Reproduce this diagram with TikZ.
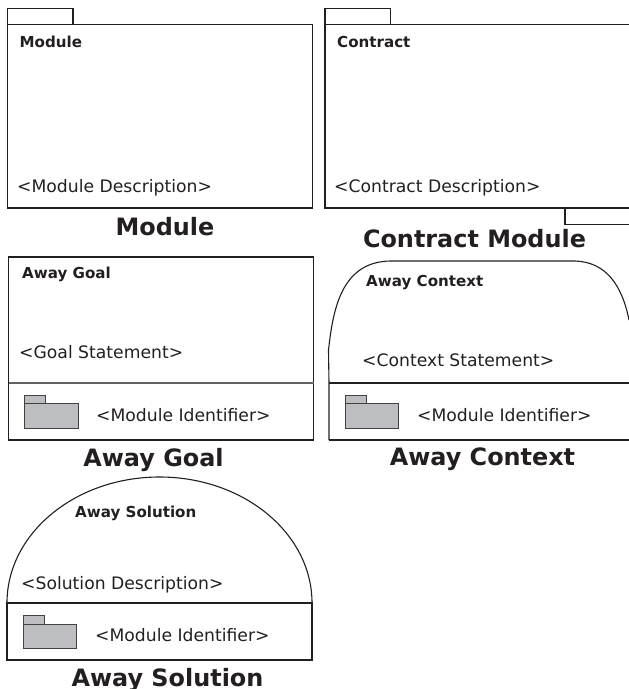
\documentclass[tikz,border=0pt]{standalone}
\usepackage{fontspec}
\setmainfont{DejaVu Sans}
\definecolor{inkgray}{HTML}{231F20}
\definecolor{foldergray}{HTML}{BDBEC2}
\tikzset{
    outline/.style={draw=inkgray, line width=1.1pt},
    folder/.style={draw=inkgray!85, line width=0.8pt, fill=foldergray},
    title/.style={anchor=base west, inner sep=0pt, text=inkgray, font=\fontsize{15.1}{16}\selectfont\bfseries},
    body/.style={anchor=base west, inner sep=0pt, text=inkgray, font=\fontsize{17.2}{20}\selectfont},
    caption/.style={anchor=base, inner sep=0pt, text=inkgray, font=\fontsize{23.9}{26}\selectfont\bfseries}
}
\begin{document}
\begin{tikzpicture}[x=1pt, y=-1pt]
        \clip (0,0) rectangle (629,689);

        % Module
        \draw[outline] (7.5,8.5) rectangle (73,24.5);
        \draw[outline] (7.5,24.5) rectangle (312.5,208);
        \node[title] (moduleTitle) at (19.5,47) {Module};
        \node[body] (moduleDesc) at (17,192.3) {<Module Description>};
        \node[caption] (moduleCaption) at (165,235) {Module};

        % Contract module
        \draw[outline] (325,8.5) rectangle (390.5,24.5);
        \draw[outline] (325,24.5) rectangle (640,208);
        \draw[outline] (565,208) rectangle (640,224.5);
        \node[title] (contractTitle) at (337,47) {Contract};
        \node[body] (contractDesc) at (334,192.3) {<Contract Description>};
        \node[caption] (contractCaption) at (474.5,247) {Contract Module};

        % Away goal
        \draw[outline] (8.5,257) rectangle (313.5,440);
        \draw[outline, draw=inkgray!70] (8.5,383) -- (313.5,383);
        \node[title] (goalTitle) at (22,278.5) {Away Goal};
        \node[body] (goalDesc) at (19,358.3) {<Goal Statement>};
        \draw[folder] (24.5,395) rectangle (45.5,403.5);
        \draw[folder] (24.5,403.5) rectangle (78,428);
        \node[body] (goalIdent) at (96,421.3) {<Module Identifier>};
        \node[caption] (goalCaption) at (153.5,466) {Away Goal};

        % Away context
        \draw[outline] (329,440) -- (640,440);
        \draw[outline] (329,383) -- (640,383);
        \draw[outline] (329,440) -- (329,383) -- (328.5,350);
        \draw[outline] (328.5,350) .. controls (333,310) and (341,262) .. (390,261) -- (575,261) .. controls (606,262) and (622,285) .. (629,320);
        \node[title] (contextTitle) at (366,286.5) {Away Context};
        \node[body] (contextDesc) at (362,366.3) {<Context Statement>};
        \draw[folder] (345.5,395) rectangle (366,403.5);
        \draw[folder] (345.5,403.5) rectangle (398.5,428);
        \node[body] (contextIdent) at (417,421.3) {<Module Identifier>};
        \node[caption] (contextCaption) at (482.5,465) {Away Context};

        % Away solution
        \draw[outline] (7,603) arc[start angle=180, end angle=0, x radius=152.5, y radius=-126];
        \draw[outline] (7,603) rectangle (312,660);
        \node[title] (solutionTitle) at (75,517.5) {Away Solution};
        \node[body] (solutionDesc) at (21,589.3) {<Solution Description>};
        \draw[folder] (23,615.5) rectangle (44,624);
        \draw[folder] (23,624) rectangle (76.5,648.5);
        \node[body] (solutionIdent) at (95,641.3) {<Module Identifier>};
        \node[caption] (solutionCaption) at (167.5,686) {Away Solution};
\end{tikzpicture}
\end{document}
